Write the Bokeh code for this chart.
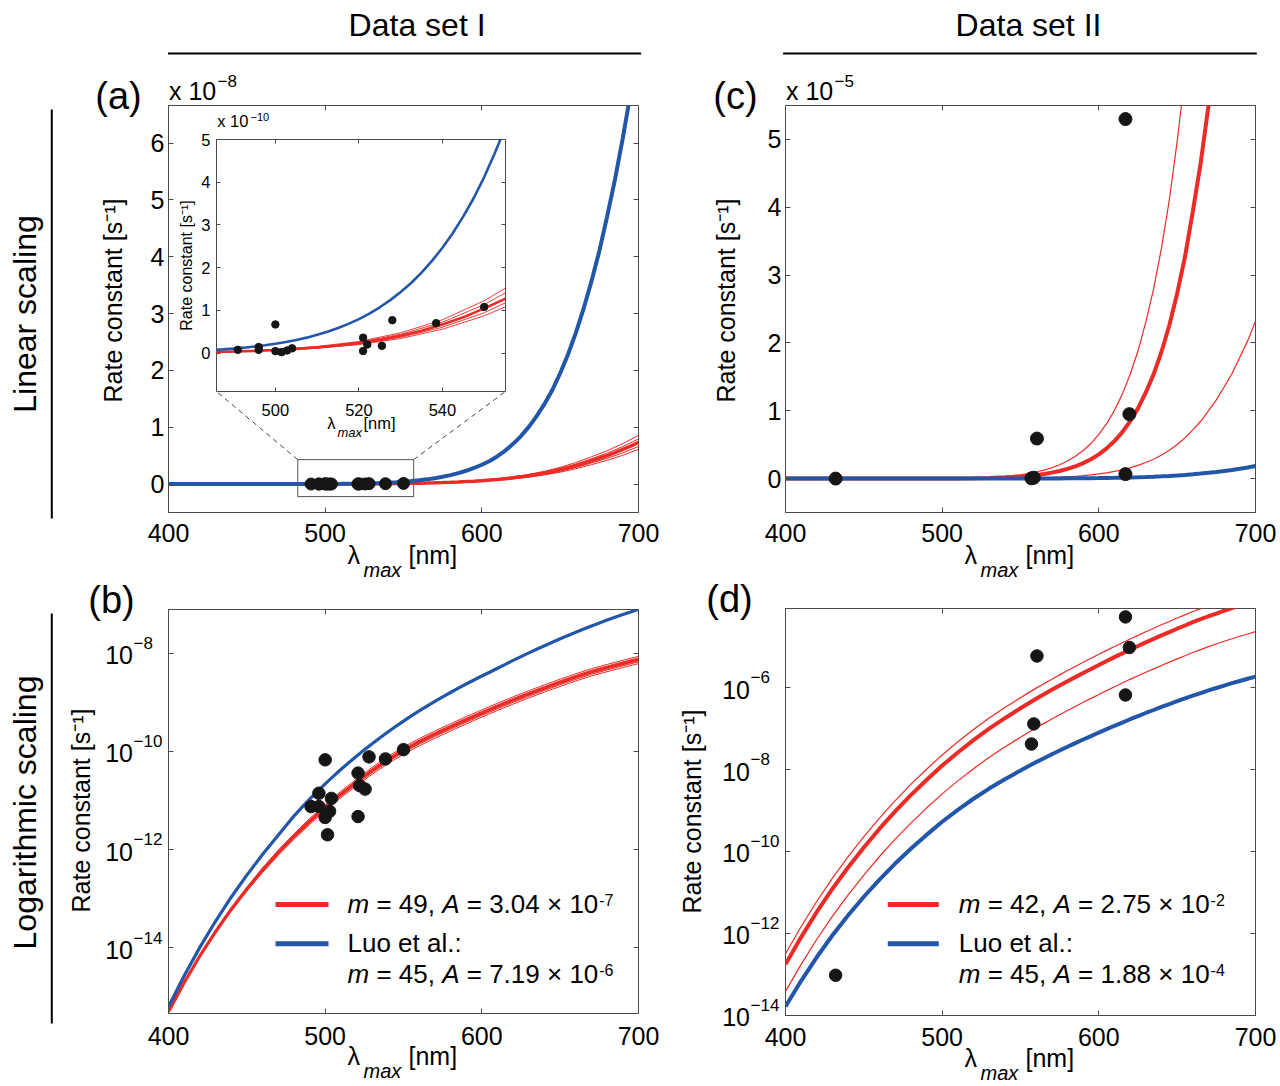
import math
from bokeh.plotting import figure
from bokeh.models import Range1d, LinearAxis, LogAxis, FixedTicker, CustomJSTickFormatter
from bokeh.embed import file_html
from bokeh.resources import INLINE
from bokeh.core.properties import value

FONT = "Liberation Sans"
BLUE = "#2256a9"
RED = "#ec2a26"
DOT = "#161616"
FRAME = "#4a4a4a"

# ---------------- data ----------------
LAM1 = [400, 410, 420, 430, 440, 450, 460, 470, 480, 485, 490, 495, 500, 505, 510, 515,
        520, 525, 530, 535, 540, 545, 550, 555, 560, 565, 570, 575, 580, 585, 590, 595,
        600, 605, 610, 615, 620, 625, 630, 635, 640, 645, 650, 655, 660, 665, 670, 675,
        680, 685, 690, 695, 700]
# Luo et al. curve (m = 45, A = 7.19e-6), data set I
K_LUO_I = [6.31e-16, 2.69e-15, 1.02e-14, 3.47e-14, 1.07e-13, 3.02e-13, 7.94e-13, 1.95e-12,
           4.79e-12, 7.13e-12, 1.047e-11, 1.517e-11, 2.17e-11, 3.05e-11, 4.26e-11, 5.86e-11,
           7.96e-11, 1.072e-10, 1.429e-10, 1.884e-10, 2.466e-10, 3.20e-10, 4.12e-10, 5.27e-10,
           6.64e-10, 8.31e-10, 1.034e-9, 1.279e-9, 1.574e-9, 1.925e-9, 2.342e-9, 2.831e-9,
           3.404e-9, 4.07e-9, 4.91e-9, 5.89e-9, 7.08e-9, 8.45e-9, 1.006e-8, 1.195e-8,
           1.41e-8, 1.655e-8, 1.95e-8, 2.28e-8, 2.66e-8, 3.09e-8, 3.57e-8, 4.10e-8,
           4.71e-8, 5.36e-8, 6.09e-8, 6.88e-8, 7.76e-8]
# the same Luo et al. curve read more finely inside the inset range
LAM_IN = [482.5, 485, 487.5, 490, 492.5, 495, 497.5, 500, 502.5, 505, 507.5, 510, 512.5, 515,
          517.5, 520, 522.5, 525, 527.5, 530, 532.5, 535, 537.5, 540, 542.5, 545, 547.5, 550,
          552.5, 555, 557.5, 560]
K_LUO_I_IN = [5.85e-12, 7.13e-12, 8.65e-12, 1.047e-11, 1.262e-11, 1.517e-11, 1.816e-11, 2.17e-11,
              2.58e-11, 3.05e-11, 3.61e-11, 4.26e-11, 5.00e-11, 5.86e-11, 6.84e-11, 7.96e-11,
              9.25e-11, 1.072e-10, 1.239e-10, 1.429e-10, 1.641e-10, 1.884e-10, 2.158e-10,
              2.466e-10, 2.812e-10, 3.20e-10, 3.63e-10, 4.12e-10, 4.67e-10, 5.27e-10, 5.92e-10,
              6.64e-10]
# fitted curve (m = 49, A = 3.04e-7), data set I
K_FIT_I = [5.01e-16, 1.95e-15, 6.82e-15, 2.12e-14, 6.04e-14, 1.57e-13, 3.82e-13, 8.67e-13,
           1.84e-12, 2.62e-12, 3.74e-12, 5.21e-12, 7.26e-12, 9.84e-12, 1.33e-11, 1.77e-11,
           2.34e-11, 3.09e-11, 4.07e-11, 5.21e-11, 6.68e-11, 8.36e-11, 1.047e-10, 1.27e-10,
           1.55e-10, 1.85e-10, 2.21e-10, 2.62e-10, 3.11e-10, 3.67e-10, 4.34e-10, 5.08e-10,
           5.97e-10, 6.97e-10, 8.15e-10, 9.46e-10, 1.10e-9, 1.27e-9, 1.47e-9, 1.68e-9,
           1.93e-9, 2.20e-9, 2.52e-9, 2.86e-9, 3.24e-9, 3.65e-9, 4.11e-9, 4.54e-9,
           5.02e-9, 5.53e-9, 6.10e-9, 6.68e-9, 7.33e-9]
# thin bound curves around the fit, data set I
LAM1_BAND = [400, 410, 420, 430, 440, 450, 460, 470, 480, 490, 500, 510, 520, 530, 540, 550,
             560, 570, 580, 590, 600, 610, 620, 630, 640, 650, 660, 670, 680, 690, 700]
K_FIT_I_HI2 = [5.01e-16, 1.99e-15, 7.10e-15, 2.24e-14, 6.49e-14, 1.71e-13, 4.22e-13, 9.68e-13,
               2.07e-12, 4.25e-12, 8.30e-12, 1.535e-11, 2.71e-11, 4.73e-11, 7.80e-11, 1.225e-10,
               1.81e-10, 2.59e-10, 3.64e-10, 5.07e-10, 6.98e-10, 9.53e-10, 1.285e-9, 1.714e-9,
               2.26e-9, 2.94e-9, 3.79e-9, 4.81e-9, 5.87e-9, 7.13e-9, 8.57e-9]
K_FIT_I_HI1 = [5.01e-16, 1.97e-15, 6.97e-15, 2.19e-14, 6.27e-14, 1.64e-13, 4.02e-13, 9.16e-13,
               1.96e-12, 3.99e-12, 7.78e-12, 1.43e-11, 2.53e-11, 4.41e-11, 7.23e-11, 1.135e-10,
               1.68e-10, 2.40e-10, 3.37e-10, 4.70e-10, 6.47e-10, 8.83e-10, 1.19e-9, 1.59e-9,
               2.09e-9, 2.73e-9, 3.52e-9, 4.46e-9, 5.45e-9, 6.61e-9, 7.94e-9]
K_FIT_I_LO1 = [5.01e-16, 1.92e-15, 6.65e-15, 2.05e-14, 5.75e-14, 1.48e-13, 3.58e-13, 8.05e-13,
               1.70e-12, 3.44e-12, 6.64e-12, 1.21e-11, 2.13e-11, 3.69e-11, 6.04e-11, 9.44e-11,
               1.40e-10, 2.00e-10, 2.81e-10, 3.91e-10, 5.38e-10, 7.34e-10, 9.91e-10, 1.32e-9,
               1.74e-9, 2.27e-9, 2.92e-9, 3.71e-9, 4.53e-9, 5.50e-9, 6.61e-9]
K_FIT_I_LO2 = [5.01e-16, 1.905e-15, 6.52e-15, 1.99e-14, 5.55e-14, 1.42e-13, 3.40e-13, 7.62e-13,
               1.60e-12, 3.22e-12, 6.19e-12, 1.13e-11, 1.98e-11, 3.41e-11, 5.58e-11, 8.71e-11,
               1.29e-10, 1.84e-10, 2.59e-10, 3.61e-10, 4.97e-10, 6.78e-10, 9.14e-10, 1.22e-9,
               1.61e-9, 2.09e-9, 2.70e-9, 3.42e-9, 4.18e-9, 5.07e-9, 6.10e-9]

# wavelength grid of the curves, data set II
LAM2 = [400, 410, 420, 430, 440, 450, 460, 470, 480, 490, 500, 510, 520, 530,
        540, 545, 550, 555, 560, 565, 570, 575, 580, 585, 590, 595, 600, 605, 610, 615,
        620, 625, 630, 635, 640, 645, 650, 655, 660, 665, 670, 675, 680, 685, 690, 695, 700]
K_LUO_II = [1.65e-14, 7.03e-14, 2.67e-13, 9.06e-13, 2.80e-12, 7.89e-12, 2.07e-11, 5.09e-11,
            1.17e-10, 2.55e-10, 5.33e-10, 1.04e-9, 1.94e-9, 3.44e-9,
            5.78e-9, 7.41e-9, 9.48e-9, 1.20e-8, 1.52e-8, 1.89e-8, 2.36e-8, 2.91e-8, 3.59e-8,
            4.41e-8, 5.40e-8, 6.56e-8, 8.0e-8, 9.68e-8, 1.17e-7, 1.40e-7, 1.69e-7, 2.01e-7,
            2.40e-7, 2.84e-7, 3.37e-7, 3.95e-7, 4.66e-7, 5.44e-7, 6.35e-7, 7.36e-7, 8.51e-7,
            9.77e-7, 1.12e-6, 1.28e-6, 1.45e-6, 1.64e-6, 1.85e-6]
K_FIT_II = [1.77e-13, 8.17e-13, 3.37e-12, 1.24e-11, 4.14e-11, 1.26e-10, 3.61e-10, 9.59e-10,
            2.38e-9, 5.58e-9, 1.25e-8, 2.61e-8, 5.21e-8, 9.93e-8,
            1.79e-7, 2.36e-7, 3.13e-7, 4.08e-7, 5.33e-7, 6.85e-7, 8.81e-7, 1.12e-6, 1.43e-6,
            1.80e-6, 2.28e-6, 2.85e-6, 3.57e-6, 4.45e-6, 5.53e-6, 6.84e-6, 8.45e-6, 1.035e-5,
            1.27e-5, 1.54e-5, 1.87e-5, 2.26e-5, 2.73e-5, 3.27e-5, 3.94e-5, 4.65e-5, 5.50e-5,
            6.41e-5, 7.50e-5, 8.65e-5, 1.00e-4, 1.14e-4, 1.30e-4]
K_FIT_II_HI = [3.21e-13, 1.48e-12, 6.13e-12, 2.25e-11, 7.53e-11, 2.30e-10, 6.56e-10, 1.74e-9,
               4.34e-9, 1.015e-8, 2.27e-8, 4.75e-8, 9.48e-8, 1.81e-7,
               3.25e-7, 4.29e-7, 5.68e-7, 7.43e-7, 9.70e-7, 1.244e-6, 1.60e-6, 2.04e-6, 2.60e-6,
               3.28e-6, 4.15e-6, 5.18e-6, 6.51e-6, 8.09e-6, 1.006e-5, 1.245e-5, 1.538e-5, 1.88e-5,
               2.31e-5, 2.80e-5, 3.40e-5, 4.11e-5, 4.97e-5, 5.95e-5, 7.16e-5, 8.45e-5, 9.99e-5,
               1.163e-4, 1.359e-4, 1.576e-4, 1.816e-4, 2.079e-4, 2.374e-4]
K_FIT_II_LO = [3.86e-14, 1.77e-13, 7.26e-13, 2.65e-12, 8.81e-12, 2.67e-11, 7.57e-11, 2.00e-10,
               4.93e-10, 1.15e-9, 2.55e-9, 5.30e-9, 1.05e-8, 1.99e-8,
               3.55e-8, 4.67e-8, 6.17e-8, 8.02e-8, 1.045e-7, 1.34e-7, 1.71e-7, 2.17e-7, 2.76e-7,
               3.47e-7, 4.37e-7, 5.45e-7, 6.81e-7, 8.43e-7, 1.05e-6, 1.29e-6, 1.59e-6, 1.94e-6,
               2.37e-6, 2.86e-6, 3.47e-6, 4.17e-6, 5.02e-6, 6.00e-6, 7.19e-6, 8.45e-6, 9.98e-6,
               1.16e-5, 1.35e-5, 1.55e-5, 1.79e-5, 2.03e-5, 2.32e-5]

# measured rate constants
DS1_LAM = [491, 496, 496, 500, 500, 501.5, 502.8, 504, 521, 521, 522, 525.5, 528, 538.5, 550]
DS1_K = [7.5e-12, 1.4e-11, 7.5e-12, 6.7e-11, 4.5e-12, 2.0e-12, 6.0e-12, 1.1e-11,
         3.6e-11, 4.7e-12, 2.0e-11, 1.7e-11, 7.7e-11, 7.0e-11, 1.08e-10]
DS2_LAM = [432, 557, 558.5, 560.5, 617, 617, 619.5]
DS2_K = [9.6e-14, 4.2e-8, 1.3e-7, 5.9e-6, 5.3e-5, 6.6e-7, 9.5e-6]

# ticks and texts
X_TICKS = [400, 500, 600, 700]
LIN_TICKS_I = [0.0, 1e-8, 2e-8, 3e-8, 4e-8, 5e-8, 6e-8]
LIN_TICKS_II = [0.0, 1e-5, 2e-5, 3e-5, 4e-5, 5e-5]
LOG_TICKS_I = [1e-14, 1e-12, 1e-10, 1e-8]
LOG_TICKS_II = [1e-14, 1e-12, 1e-10, 1e-8, 1e-6]
INSET_X_TICKS = [500, 520, 540]
INSET_Y_TICKS = [0.0, 1e-10, 2e-10, 3e-10, 4e-10, 5e-10]
HEADERS = ["Data set I", "Data set II"]
ROW_LABELS = ["Linear scaling", "Logarithmic scaling"]
LETTERS = ["(a)", "(b)", "(c)", "(d)"]
Y_LABEL = "Rate constant [s\u207b\u00b9]"
LEG_I = [("49", "3.04", "-7"), ("45", "7.19", "-6")]
LEG_II = [("42", "2.75", "-2"), ("45", "1.88", "-4")]
LUO = "Luo et al.:"

# ---------------- geometry (page pixels) ----------------
XR = (400, 700)
A_YR = (-0.5e-8, 6.66e-8)
C_YR = (-0.5e-5, 5.5e-5)
B_YR = (4.6e-16, 7.7e-8)
D_YR = (1e-14, 8.5e-5)
IN_XR = (485.9, 555.1)
IN_YR = (-0.9e-10, 5e-10)
RECT = (482.5, 556.5, -0.22e-8, 0.43e-8)

FR_A = (168, 105, 638, 512)
FR_C = (785, 105, 1255, 512)
FR_B = (168, 609, 638, 1013)
FR_D = (785, 608, 1255, 1015)
FR_IN = (216, 139, 505, 391)

EM = {' ': .278, '=': .584, ',': .278, '.': .278, '\u00d7': .584, 'm': .833, 'A': .667, '-': .333}


def tw(s, size):
    return sum(EM.get(c, .556) for c in s) * size


def abs_css(left, top, z):
    return [":host { position: absolute !important; left: %dpx !important; "
            "top: %dpx !important; z-index: %d; }" % (left, top, z)]


def make_panel(canvas, frame, xr, yr, ylog, xticks, yticks, scale=None,
               xstand=11, ystand=4, tick=5, font=25, z=1, **extra):
    cl, ct, cw, ch = canvas
    fl, ft, fr, fb = frame
    opts = dict(background_fill_color="white", border_fill_color="white")
    opts.update(extra)
    p = figure(width=cw, height=ch, x_range=Range1d(*xr), y_range=Range1d(*yr),
               y_axis_type="log" if ylog else "linear",
               output_backend="svg", toolbar_location=None, title=None,
               min_border_left=fl - cl, min_border_right=cl + cw - fr,
               min_border_top=ft - ct, min_border_bottom=ct + ch - fb,
               outline_line_color=FRAME, outline_line_width=1,
               stylesheets=abs_css(cl, ct, z), **opts)
    p.grid.visible = False
    blank = CustomJSTickFormatter(code="return '';")
    xt = FixedTicker(ticks=xticks)
    yt = FixedTicker(ticks=yticks)
    p.xaxis.ticker = xt
    p.yaxis.ticker = yt
    p.xaxis.formatter = CustomJSTickFormatter(code="return String(Math.round(tick));")
    if ylog:
        p.yaxis.formatter = blank
    else:
        p.yaxis.formatter = CustomJSTickFormatter(code="return String(Math.round(tick / %r));" % scale)
    p.add_layout(LinearAxis(ticker=xt, formatter=blank), "above")
    p.add_layout((LogAxis if ylog else LinearAxis)(ticker=yt, formatter=blank), "right")
    for ax in p.axis:
        ax.axis_line_color = None
        ax.major_tick_in = tick
        ax.major_tick_out = 0
        ax.major_tick_line_color = FRAME
        ax.minor_tick_line_color = None
        ax.major_label_text_font = FONT
        ax.major_label_text_font_size = "%.1fpx" % font
        ax.major_label_text_color = "black"
    hidden = [p.above[0], p.right[0]] + ([p.left[0]] if ylog else [])
    for ax in hidden:
        ax.major_label_text_font_size = "0px"
        ax.major_label_standoff = 0
    p.below[0].major_label_standoff = xstand
    if not ylog:
        p.left[0].major_label_standoff = ystand
    return p


def px_lin(frame, xr, v):
    return frame[0] + (v - xr[0]) / (xr[1] - xr[0]) * (frame[2] - frame[0])


def py_lin(frame, yr, v):
    return frame[3] - (v - yr[0]) / (yr[1] - yr[0]) * (frame[3] - frame[1])


def py_log(frame, yr, v):
    l0, l1 = math.log10(yr[0]), math.log10(yr[1])
    return frame[3] - (math.log10(v) - l0) / (l1 - l0) * (frame[3] - frame[1])


# ---------------- panels ----------------
a = make_panel((108, 95, 555, 462), FR_A, XR, A_YR, False, X_TICKS, LIN_TICKS_I, scale=1e-8)
for arr in (K_FIT_I_HI2, K_FIT_I_HI1, K_FIT_I_LO1, K_FIT_I_LO2):
    a.line(LAM1_BAND, arr, color=RED, line_width=1)
a.line(LAM1, K_FIT_I, color=RED, line_width=3.5)
a.line(LAM1, K_LUO_I, color=BLUE, line_width=4)
a.quad(left=[RECT[0]], right=[RECT[1]], bottom=[RECT[2]], top=[RECT[3]],
       fill_color=None, line_color="#555555", line_width=1)
a.scatter(DS1_LAM, DS1_K, marker="circle", size=12, color=DOT)

c = make_panel((725, 95, 555, 462), FR_C, XR, C_YR, False, X_TICKS, LIN_TICKS_II, scale=1e-5)
c.line(LAM2, K_FIT_II_HI, color=RED, line_width=1.2)
c.line(LAM2, K_FIT_II_LO, color=RED, line_width=1.2)
c.line(LAM2, K_FIT_II, color=RED, line_width=4)
c.line(LAM2, K_LUO_II, color=BLUE, line_width=4)
c.scatter(DS2_LAM, DS2_K, marker="circle", size=13, color=DOT)

b = make_panel((108, 599, 555, 459), FR_B, XR, B_YR, True, X_TICKS, LOG_TICKS_I, xstand=13)
for arr in (K_FIT_I_HI2, K_FIT_I_HI1, K_FIT_I_LO1, K_FIT_I_LO2):
    b.line(LAM1_BAND, arr, color=RED, line_width=1)
b.line(LAM1, K_FIT_I, color=RED, line_width=3.2)
b.line(LAM1, K_LUO_I, color=BLUE, line_width=3.2)
b.scatter(DS1_LAM, DS1_K, marker="circle", size=12.5, color=DOT)

d = make_panel((725, 598, 555, 462), FR_D, XR, D_YR, True, X_TICKS, LOG_TICKS_II, xstand=12)
d.line(LAM2, K_FIT_II_HI, color=RED, line_width=1.2)
d.line(LAM2, K_FIT_II_LO, color=RED, line_width=1.2)
d.line(LAM2, K_FIT_II, color=RED, line_width=4)
d.line(LAM2, K_LUO_II, color=BLUE, line_width=4)
d.scatter(DS2_LAM, DS2_K, marker="circle", size=12.5, color=DOT)

ins = make_panel((180, 129, 340, 290), FR_IN, IN_XR, IN_YR, False, INSET_X_TICKS, INSET_Y_TICKS,
                 scale=1e-10, xstand=12, ystand=6, tick=4, font=16.5, z=5, border_fill_alpha=0)
for arr in (K_FIT_I_HI2, K_FIT_I_HI1, K_FIT_I_LO1, K_FIT_I_LO2):
    ins.line(LAM1_BAND, arr, color=RED, line_width=0.9)
ins.line(LAM1, K_FIT_I, color=RED, line_width=2.6)
ins.line(LAM_IN, K_LUO_I_IN, color=BLUE, line_width=2.6)
ins.scatter(DS1_LAM, DS1_K, marker="circle", size=7.5, color=DOT)

# ---------------- overlay with all texts outside the plot frames ----------------
OW, OH = 1276, 1084
ov = figure(width=OW, height=OH, x_range=Range1d(0, OW), y_range=Range1d(-OH, 0),
            output_backend="svg", toolbar_location=None, title=None, min_border=0,
            x_axis_location=None, y_axis_location=None, outline_line_color=None,
            background_fill_alpha=0, border_fill_alpha=0, stylesheets=abs_css(0, 0, 20))
ov.grid.visible = False

BASE = 0.35  # svg text sits this many em below the given anchor


def T(x, y, s, size, align="left", italic=False, rot=False):
    if rot:
        xs, ys = x - BASE * size, y
    else:
        xs, ys = x, y - BASE * size
    ov.text(x=[xs], y=[-ys], text=[s], angle=math.pi / 2 if rot else 0.0,
            text_font=value(FONT), text_font_size=value("%.1fpx" % size),
            text_font_style="italic" if italic else "normal",
            text_align=align, text_baseline="alphabetic", text_color="black")


def L(x0, y0, x1, y1, color="black", width=2.0, dash="solid"):
    ov.line([x0, x1], [-y0, -y1], line_color=color, line_width=width, line_dash=dash)


# header and row labels
T(416.6, 35.5, HEADERS[0], 32, align="center")
T(1028.0, 35.5, HEADERS[1], 32, align="center")
L(167.5, 52.9, 640.6, 52.9)
L(782.6, 52.9, 1256.3, 52.9)
T(35.5, 313.5, ROW_LABELS[0], 32, align="center", rot=True)
T(35.5, 812.0, ROW_LABELS[1], 32, align="center", rot=True)
L(51.3, 109, 51.3, 518)
L(51.3, 613, 51.3, 1023)


def axis_texts(frame, letter, letter_x, ylab_x, ylab_y, mult=None):
    fl, ft, fr, fb = frame
    T(letter_x, ft + 3.7, letter, 38, align="center")
    T(ylab_x, ylab_y, Y_LABEL, 25, align="center", rot=True)
    T(fl + 179, fb + 51, "\u03bb", 25)
    T(fl + 195, fb + 64, "max", 20, italic=True)
    T(fl + 240, fb + 51, "[nm]", 25)
    if mult is not None:
        T(fl + 0.5, ft - 6, "x 10", 25)
        T(fl + 49, ft - 18.5, "\u2212" + mult, 17)


def log_texts(frame, yr, ticks):
    fl = frame[0]
    for t in ticks:
        y = py_log(frame, yr, t)
        e = int(round(math.log10(t)))
        T(fl - 35.5, y + 10.7, "10", 25, align="right")
        T(fl - 35.0, y - 4.3, "\u2212" + str(-e), 17)


def legend_entry(x0, base, m, mant, ex, size=26, sup=16):
    pieces = [("m", True), (" = %s, " % m, False), ("A", True), (" = %s \u00d7 10" % mant, False)]
    off = 0.0
    for txt, it in pieces:
        lead = len(txt) - len(txt.lstrip(' '))
        T(x0 + off + tw(' ' * lead, size), base, txt.strip(), size, italic=it)
        off += tw(txt, size)
    T(x0 + off + 1, base - 8, ex, sup)


def legend(sx0, sx1, tx0, entries):
    L(sx0, 904, sx1, 904, color=RED, width=5)
    L(sx0, 943.3, sx1, 943.3, color=BLUE, width=5)
    legend_entry(tx0, 913, *entries[0])
    T(tx0, 952, LUO, 26)
    legend_entry(tx0, 983, *entries[1])


axis_texts(FR_A, LETTERS[0], 118, 120.8, 300, mult="8")
axis_texts(FR_B, LETTERS[1], 111, 89.5, 810)
axis_texts(FR_C, LETTERS[2], 735, 733.8, 300, mult="5")
axis_texts(FR_D, LETTERS[3], 729, 700.3, 811)
log_texts(FR_B, B_YR, LOG_TICKS_I)
log_texts(FR_D, D_YR, LOG_TICKS_II)
legend(275, 328, 347, LEG_I)
legend(887.3, 938.3, 958.3, LEG_II)

# inset labels and the zoom connectors
T(191.6, 265, Y_LABEL, 16, align="center", rot=True)
T(326.7, 428.5, "\u03bb", 16.5)
T(337, 437, "max", 13, italic=True)
T(363, 428.5, "[nm]", 16.5)
T(216.7, 126.7, "x 10", 16.5)
T(250, 120, "\u221210", 11)
for rx, ix in ((RECT[0], FR_IN[0]), (RECT[1], FR_IN[2])):
    L(px_lin(FR_A, XR, rx), py_lin(FR_A, A_YR, RECT[3]), ix, FR_IN[3],
      color="#444444", width=1, dash="5 4")

open("out.html", "w", encoding="utf-8").write(
    file_html([a, c, b, d, ins, ov], INLINE, "Rate constants"))
